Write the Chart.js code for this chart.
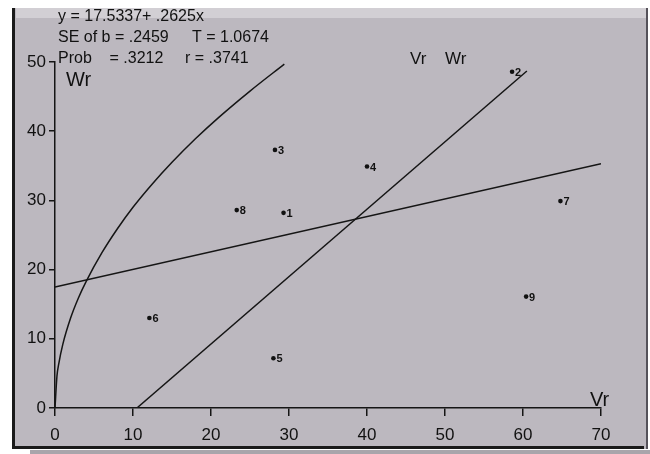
<!DOCTYPE html>
<html>
<head>
<meta charset="utf-8">
<script src="https://cdn.jsdelivr.net/npm/chart.js@4.4.1/dist/chart.umd.min.js"></script>
<style>
  html, body { margin: 0; padding: 0; background: #fff; }
  #wrap { width: 650px; height: 454px; }
</style>
</head>
<body>
<div id="wrap"><canvas id="chart" width="650" height="454"></canvas></div>
<script>
// arrays (Vr, Wr)
const arrayNames = ['1', '2', '3', '4', '5', '6', '7', '8', '9'];
const vrValues = [29.3, 58.6, 28.2, 40.0, 28.0, 12.1, 64.8, 23.3, 60.4];
const wrValues = [28.2, 48.6, 37.3, 34.9, 7.2, 13.0, 29.9, 28.6, 16.1];

// regression line end points
const regVr = [0, 70];
const regWr = [17.5, 35.3];

// unit slope limiting line
const limVr = [10.5, 60.5];
const limWr = [0, 48.7];

// parabola Wr^2 = k Vr
const curveVr = [0, 0.25, 0.5, 1, 2, 3, 4, 6, 8, 10, 12.5, 15, 18, 21, 25, 29.4];
const curveWr = [0, 4.6, 6.5, 9.2, 13.0, 15.9, 18.3, 22.4, 25.9, 29.0, 32.4, 35.5, 38.9, 42.0, 45.8, 49.7];

const xTicks = [0, 10, 20, 30, 40, 50, 60, 70];
const yTicks = [0, 10, 20, 30, 40, 50];

const statLines = [
    ['y = 17.5337+ .2625x', ''],
    ['SE of b = .2459', 'T = 1.0674'],
    ['Prob    = .3212', 'r = .3741']
];

const FONT = "'Liberation Sans', Arial, sans-serif";
const pairs = (xs, ys) => xs.map((x, i) => ({x: x, y: ys[i]}));

const paper = {
    id: 'paper',
    beforeDraw(c) {
        const ctx = c.ctx;
        ctx.save();
        ctx.fillStyle = '#ffffff';
        ctx.fillRect(0, 0, c.width, c.height);
        ctx.fillStyle = '#bcb8bf';
        ctx.fillRect(12, 8, 636, 441);
        ctx.fillStyle = '#d2cfd4';
        ctx.fillRect(16, 8, 630, 10);
        ctx.fillStyle = '#a9a5ab';
        ctx.fillRect(30, 450, 620, 4);
        ctx.fillStyle = '#1a1a1a';
        ctx.fillRect(12, 8, 3, 441);
        ctx.fillRect(12, 446, 632, 3);
        ctx.fillStyle = '#55525a';
        ctx.fillRect(646, 8, 2, 441);
        ctx.restore();
    },
    afterDraw(c) {
        const ctx = c.ctx;
        ctx.save();
        ctx.fillStyle = '#111';
        ctx.textBaseline = 'alphabetic';
        ctx.font = '16px ' + FONT;
        statLines.forEach((l, i) => {
            ctx.fillText(l[0], 58, 21 + i * 21);
            if (l[1]) ctx.fillText(l[1], i == 1 ? 192 : 185, 21 + i * 21);
        });
        ctx.font = '20px ' + FONT;
        ctx.fillText('Wr', 66, 86);
        ctx.fillText('Vr', 590, 406);
        ctx.font = '17px ' + FONT;
        ctx.fillText('Vr', 410, 64);
        ctx.fillText('Wr', 445, 64);

        const meta = c.getDatasetMeta(3);
        ctx.font = 'bold 11px ' + FONT;
        ctx.textBaseline = 'middle';
        meta.data.forEach((p, i) => {
            ctx.fillText(arrayNames[i], p.x + 3, p.y + 1);
        });
        ctx.restore();
    }
};

const lineSet = (data) => ({
    data: data,
    showLine: true,
    borderColor: '#151515',
    borderWidth: 1.5,
    pointRadius: 0,
    fill: false,
    tension: 0
});

const chart = new Chart(document.getElementById('chart'), {
    type: 'scatter',
    data: {
        datasets: [
            lineSet(pairs(regVr, regWr)),
            lineSet(pairs(limVr, limWr)),
            Object.assign(lineSet(pairs(curveVr, curveWr)), {cubicInterpolationMode: 'monotone'}),
            {
                data: pairs(vrValues, wrValues),
                backgroundColor: '#111',
                borderColor: '#111',
                pointRadius: 2.3,
                borderWidth: 0
            }
        ]
    },
    options: {
        responsive: false,
        animation: false,
        layout: {
            padding: {left: 14, top: 62, right: 49, bottom: 8}
        },
        plugins: {
            legend: {display: false},
            tooltip: {enabled: false}
        },
        scales: {
            x: {
                type: 'linear',
                min: xTicks[0],
                max: xTicks[xTicks.length - 1],
                afterBuildTicks: s => { s.ticks = xTicks.map(v => ({value: v})); },
                afterFit: s => { s.height = 38; s.paddingLeft = 0; s.paddingRight = 0; },
                ticks: {
                    color: '#111',
                    font: {family: FONT, size: 17},
                    padding: 9,
                    maxRotation: 0
                },
                grid: {
                    display: true,
                    drawOnChartArea: false,
                    drawTicks: true,
                    tickLength: 8,
                    color: '#151515',
                    lineWidth: 1.5
                },
                border: {display: true, color: '#151515', width: 1.5}
            },
            y: {
                type: 'linear',
                min: yTicks[0],
                max: yTicks[yTicks.length - 1],
                afterBuildTicks: s => { s.ticks = yTicks.map(v => ({value: v})); },
                afterFit: s => { s.width = 41; s.paddingTop = 0; s.paddingBottom = 0; },
                ticks: {
                    color: '#111',
                    font: {family: FONT, size: 17},
                    padding: 3
                },
                grid: {
                    display: true,
                    drawOnChartArea: false,
                    drawTicks: true,
                    tickLength: 6,
                    color: '#151515',
                    lineWidth: 1.5
                },
                border: {display: true, color: '#151515', width: 1.5}
            }
        }
    },
    plugins: [paper]
});
</script>
</body>
</html>
